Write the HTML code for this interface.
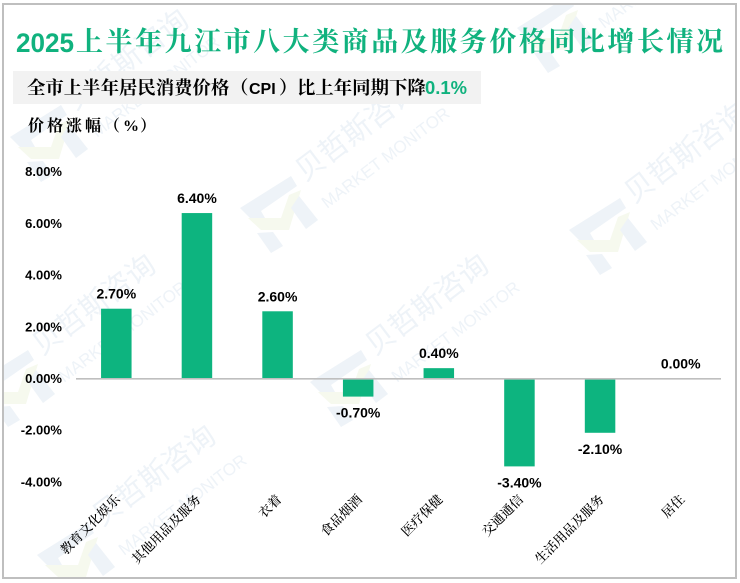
<!DOCTYPE html>
<html lang="zh-CN">
<head>
<meta charset="utf-8">
<title>2025上半年九江市八大类商品及服务价格同比增长情况</title>
<style>
html,body{margin:0;padding:0;background:#fff;width:740px;height:583px;overflow:hidden}
svg{display:block}
.latin{font-family:"Liberation Sans","Noto Sans CJK SC",sans-serif}
.cjk{font-family:"Liberation Serif","Noto Serif CJK SC",serif}
.wm1{font-family:"Noto Sans CJK SC",sans-serif;font-size:29px;font-weight:400;fill:#eef3f8}
.wm2{font-family:"Liberation Sans",sans-serif;font-size:17px;fill:#eef3f8}
</style>
</head>
<body>
<svg id="chart" width="740" height="583" viewBox="0 0 740 583" xmlns="http://www.w3.org/2000/svg">
  <defs>
    <clipPath id="frame-clip"><rect x="3" y="4" width="733" height="574"/></clipPath>
    <g id="logo-top">
      <polygon fill="#eef3f8" points="29,50 80,18 86,28 50,53 54,60 43,64"/>
      <polygon fill="#f6f9ee" points="37,60 70,60 78,37 90,32 78,72 50,72"/>
      <polygon fill="#eef3f8" points="88,38 107,62 95,71 80,50"/>
    </g>
    <g id="logo">
      <use href="#logo-top"/>
      <polygon fill="#eef3f8" points="46,75 62,74 72,88 60,95"/>
    </g>
  </defs>
  <rect x="0" y="0" width="740" height="583" fill="#fff"/>

  <g clip-path="url(#frame-clip)">
    <g transform="translate(540,180)"><use href="#logo"/><text class="wm1" transform="translate(94,24) rotate(-37)">贝哲斯咨询</text><text class="wm2" transform="translate(116,51) rotate(-37)">MARKET MONITOR</text></g>
    <g transform="translate(211,158)"><use href="#logo"/><text class="wm1" transform="translate(94,24) rotate(-37)">贝哲斯咨询</text><text class="wm2" transform="translate(116,51) rotate(-37)">MARKET MONITOR</text></g>
    <g transform="translate(281,332)"><use href="#logo"/><text class="wm1" transform="translate(94,24) rotate(-37)">贝哲斯咨询</text><text class="wm2" transform="translate(116,51) rotate(-37)">MARKET MONITOR</text></g>
    <g transform="translate(-52,332)"><use href="#logo"/><text class="wm1" transform="translate(94,24) rotate(-37)">贝哲斯咨询</text><text class="wm2" transform="translate(116,51) rotate(-37)">MARKET MONITOR</text></g>
    <g transform="translate(-19,87)"><use href="#logo"/><text class="wm1" transform="translate(94,24) rotate(-37)">贝哲斯咨询</text><text class="wm2" transform="translate(116,51) rotate(-37)">MARKET MONITOR</text></g>
    <g transform="translate(488,-22)"><use href="#logo"/><text class="wm1" transform="translate(94,24) rotate(-37)">贝哲斯咨询</text><text class="wm2" transform="translate(116,51) rotate(-37)">MARKET MONITOR</text></g>
    <g transform="translate(8,505)"><use href="#logo-top"/><text class="wm1" transform="translate(94,22) rotate(-37)">贝哲斯咨询</text><text class="wm2" transform="translate(116,51) rotate(-37)">MARKET MONITOR</text></g>
  </g>

  <rect x="3" y="4" width="733" height="574" fill="none" stroke="#bfbfbf" stroke-width="2"/>

  <g>
    <text class="latin" x="16" y="52" font-size="27" font-weight="700" fill="#10b27e" textLength="58" lengthAdjust="spacingAndGlyphs">2025</text>
    <text class="cjk" x="76" y="51" font-size="27" font-weight="700" fill="#10b27e" textLength="647">上半年九江市八大类商品及服务价格同比增长情况</text>
  </g>

  <rect x="13" y="71" width="468" height="33" fill="#f2f2f2"/>
  <text y="94" font-size="18.4" class="cjk" font-weight="700" fill="#000">
    <tspan x="27">全市上半年居民消费价格</tspan><tspan x="230">（</tspan><tspan class="latin" font-size="16" x="249">CPI</tspan><tspan x="279">）</tspan><tspan x="297">比上年同期下降</tspan><tspan class="latin" x="425" font-size="18.4" font-weight="700" fill="#10b27e">0.1%</tspan>
  </text>

  <text class="cjk" y="131" font-size="16" font-weight="700" fill="#000"><tspan x="28">价</tspan><tspan x="47">格</tspan><tspan x="66">涨</tspan><tspan x="85">幅</tspan><tspan x="104">（</tspan><tspan x="123">%</tspan><tspan x="140">）</tspan></text>

  <g id="plot"></g>

  <script>
    const categories = ['教育文化娱乐', '其他用品及服务', '衣着', '食品烟酒', '医疗保健', '交通通信', '生活用品及服务', '居住'];
    const seriesValues = [2.7, 6.4, 2.6, -0.7, 0.4, -3.4, -2.1, 0];
    const yTicks = [8, 6, 4, 2, 0, -2, -4];

    const SVG_NS = 'http://www.w3.org/2000/svg';
    const plot = document.getElementById('plot');
    const axisLeft = 76, axisRight = 721, zeroY = 378.5, unitPx = 25.85, barW = 30.5;

    function yScale(v) { return zeroY - v * unitPx; }
    function xScale(i) { return axisLeft + (axisRight - axisLeft) * (i + 0.5) / categories.length; }
    function fmt(v) { return v.toFixed(2) + '%'; }

    function make(tag, attrs) {
      const el = document.createElementNS(SVG_NS, tag);
      Object.keys(attrs).forEach(function (k) { el.setAttribute(k, attrs[k]); });
      return el;
    }

    yTicks.forEach(function (t) {
      const el = make('text', { x: 62, y: yScale(t) + 4.5, 'text-anchor': 'end', 'font-size': 13, 'font-weight': 700, fill: '#000', class: 'latin' });
      
      
      el.textContent = fmt(t);
      plot.appendChild(el);
    });

    seriesValues.forEach(function (v, i) {
      const top = Math.min(yScale(v), yScale(0));
      const h = Math.abs(yScale(v) - yScale(0));
      const bar = make('rect', { x: xScale(i) - barW / 2, y: top, width: barW, height: h, fill: '#0db47f' });
      
      
      plot.appendChild(bar);
    });

    const axis = make('line', { x1: axisLeft, x2: axisRight, y1: zeroY + 0.3, y2: zeroY + 0.3, stroke: '#bfbfbf', 'stroke-width': 1.6 });
    
    
    plot.appendChild(axis);

    seriesValues.forEach(function (v, i) {
      const labelY = v < 0 ? yScale(v) + 21 : yScale(v) - 10;
      const label = make('text', { x: xScale(i), y: labelY, 'text-anchor': 'middle', 'font-size': 14, 'font-weight': 700, fill: '#000', class: 'latin' });
      
      
      label.textContent = fmt(v);
      plot.appendChild(label);
    });

    categories.forEach(function (c, i) {
      const cx = xScale(i) + 1.5;
      const label = make('text', { x: 0, y: 0, transform: 'translate(' + cx + ',497) rotate(-45)', 'text-anchor': 'end', 'dominant-baseline': 'central', 'font-size': 13, 'font-weight': 500, fill: '#000', class: 'cjk' });
      
      
      label.textContent = c;
      plot.appendChild(label);
    });
  </script>
</svg>
</body>
</html>
